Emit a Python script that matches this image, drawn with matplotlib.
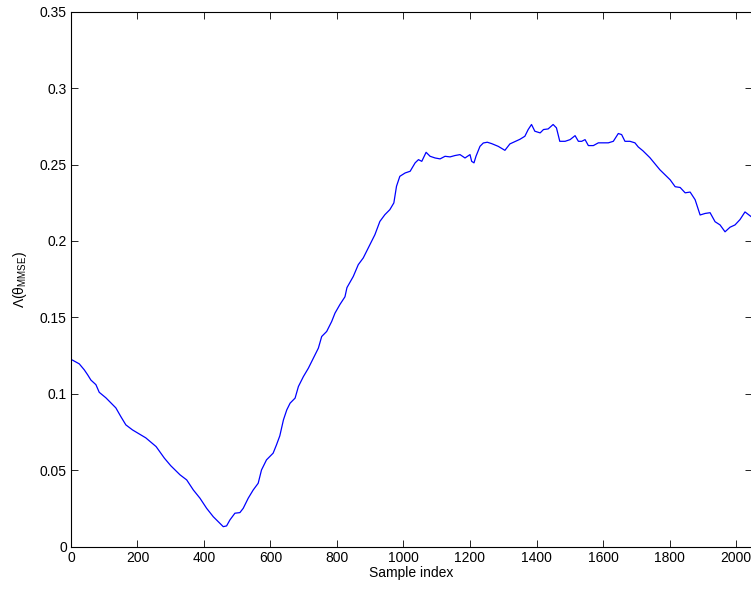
import matplotlib
matplotlib.use("Agg")
import matplotlib.pyplot as plt

plt.rcParams['font.family'] = ['Liberation Sans', 'DejaVu Sans']
plt.rcParams['mathtext.fontset'] = 'custom'
plt.rcParams['mathtext.rm'] = 'Liberation Sans'
plt.rcParams['mathtext.it'] = 'Liberation Sans'

# sample index and the value of the estimator metric at that index
sample = [0, 5, 25, 40, 50, 60, 75, 85, 105, 135, 150, 165, 185, 225, 256, 281,
          300, 328, 348, 368, 388, 408, 428, 448, 458, 468, 478, 493, 508, 518,
          533, 548, 563, 573, 588, 608, 618, 628, 639, 649, 659, 674, 684, 699,
          714, 729, 744, 754, 769, 784, 794, 809, 824, 830, 849, 864, 879, 899,
          914, 929, 944, 959, 971, 979, 989, 1005, 1020, 1035, 1045, 1055, 1068,
          1080, 1095, 1110, 1125, 1140, 1155, 1170, 1185, 1200, 1205, 1212, 1218,
          1230, 1240, 1252, 1265, 1285, 1305, 1320, 1335, 1350, 1365, 1375, 1385,
          1395, 1411, 1421, 1435, 1450, 1460, 1470, 1486, 1501, 1516, 1526, 1536,
          1546, 1556, 1571, 1586, 1601, 1616, 1631, 1646, 1656, 1666, 1681, 1696,
          1706, 1720, 1741, 1771, 1802, 1817, 1832, 1847, 1862, 1877, 1892, 1907,
          1922, 1937, 1952, 1967, 1982, 1997, 2012, 2027, 2048]
lam = [0.1225, 0.1220, 0.1196, 0.1157, 0.1125, 0.1090, 0.1060, 0.1010, 0.0974,
       0.0908, 0.0851, 0.0797, 0.0764, 0.0712, 0.0655, 0.0579, 0.0530, 0.0470,
       0.0437, 0.0371, 0.0317, 0.0251, 0.0196, 0.0153, 0.0131, 0.0136, 0.0175,
       0.0219, 0.0223, 0.0251, 0.0317, 0.0371, 0.0415, 0.0502, 0.0568, 0.0612,
       0.0666, 0.0725, 0.0830, 0.0895, 0.0939, 0.0972, 0.1048, 0.1113, 0.1168,
       0.1234, 0.1299, 0.1375, 0.1408, 0.1473, 0.1528, 0.1585, 0.1635, 0.1695,
       0.1768, 0.1845, 0.1889, 0.1976, 0.2041, 0.2128, 0.2172, 0.2205, 0.2249,
       0.2358, 0.2423, 0.2445, 0.2456, 0.2511, 0.2532, 0.2521, 0.2580, 0.2554,
       0.2543, 0.2537, 0.2554, 0.2550, 0.2559, 0.2565, 0.2543, 0.2565, 0.2521,
       0.2511, 0.2554, 0.2619, 0.2641, 0.2646, 0.2637, 0.2619, 0.2593, 0.2635,
       0.2650, 0.2665, 0.2685, 0.2729, 0.2762, 0.2718, 0.2707, 0.2729, 0.2733,
       0.2762, 0.2740, 0.2652, 0.2652, 0.2663, 0.2689, 0.2652, 0.2652, 0.2663,
       0.2624, 0.2624, 0.2642, 0.2642, 0.2642, 0.2652, 0.2703, 0.2696, 0.2652,
       0.2652, 0.2642, 0.2615, 0.2590, 0.2545, 0.2466, 0.2400, 0.2355, 0.2350,
       0.2315, 0.2320, 0.2270, 0.2170, 0.2180, 0.2185, 0.2126, 0.2105, 0.2060,
       0.2090, 0.2105, 0.2140, 0.2190, 0.2155]

xticks = list(range(0, 2001, 200))
yticks = [0, 0.05, 0.1, 0.15, 0.2, 0.25, 0.3, 0.35]
ytick_labels = ['0', '0.05', '0.1', '0.15', '0.2', '0.25', '0.3', '0.35']

fig = plt.figure(figsize=(7.51, 5.90), dpi=100)
ax = fig.add_axes([0.0945, 0.0734, 0.9068, 0.9068])

ax.plot(sample, lam, color='blue', linewidth=0.9)

ax.set_xlim(0, 2048)
ax.set_ylim(0, 0.35)
ax.set_xticks(xticks)
ax.set_yticks(yticks)
ax.set_yticklabels(ytick_labels)
ax.tick_params(direction='in', length=5, width=0.6, top=True, right=True,
               labelsize=10, pad=3)
for s in ax.spines.values():
    s.set_linewidth(0.8)

ax.set_xlabel('Sample index', fontsize=10, labelpad=1)
ax.set_ylabel(r'$\Lambda(\theta_{\mathrm{MMSE}})$', fontsize=10, labelpad=8)

fig.savefig('out.png', dpi=100)
